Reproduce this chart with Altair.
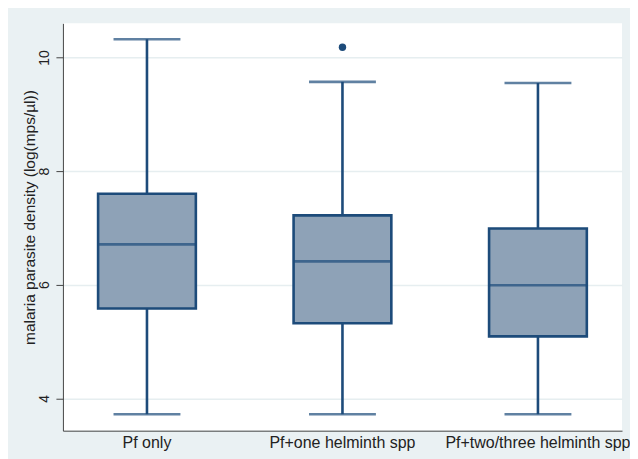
import altair as alt
import pandas as pd

groups = ["Pf only", "Pf+one helminth spp", "Pf+two/three helminth spp"]
whisker_low = [3.72, 3.72, 3.72]
q1 = [5.58, 5.32, 5.09]
median = [6.71, 6.41, 5.99]
q3 = [7.60, 7.22, 6.99]
whisker_high = [10.32, 9.57, 9.55]
outlier_group = ["Pf+one helminth spp"]
outlier_value = [10.18]

df = pd.DataFrame({"group": groups, "lo": whisker_low, "q1": q1, "med": median,
                   "q3": q3, "hi": whisker_high})
dfo = pd.DataFrame({"group": outlier_group, "v": outlier_value})

BOX_FILL = "#8EA2B7"
LINE = "#1D4B7A"
BG = "#EAF1F3"

xenc = alt.X("group:N", sort=groups, title=None,
             scale=alt.Scale(paddingInner=0.5, paddingOuter=0.18),
             axis=alt.Axis(labelAngle=0, ticks=False, labelFontSize=16, labelColor="#222",
                           labelFont="Liberation Sans", labelPadding=4, domainColor="#444",
                           labelLimit=400, domainWidth=1, grid=False))
yscale = alt.Scale(domain=[3.43, 10.6], nice=False, zero=False)
yaxis = alt.Axis(values=[4, 6, 8, 10], labelAngle=270, labelAlign="center", labelBaseline="bottom",
                 labelFontSize=14, labelColor="#222", labelFont="Liberation Sans",
                 tickSize=7, tickColor="#444", domainColor="#444", labelPadding=4,
                 title="malaria parasite density (log(mps/µl))", titleFontSize=15.5,
                 titleFont="Liberation Sans", titleFontWeight="normal", titleColor="#222",
                 titleX=-33, titleY=194, titleAlign="center", titleBaseline="middle",
                 titleLimit=500, gridColor="#E6EEF0", gridWidth=1.5)

base = alt.Chart(df)
whisk_lo = base.mark_rule(color=LINE, strokeWidth=2.6).encode(
    x=xenc, y=alt.Y("lo:Q", scale=yscale, axis=yaxis), y2="q1:Q")
whisk_hi = base.mark_rule(color=LINE, strokeWidth=2.6).encode(
    x=xenc, y=alt.Y("q3:Q", scale=yscale, axis=yaxis), y2="hi:Q")
box = base.mark_bar(fill=BOX_FILL, stroke=LINE, strokeWidth=2.6).encode(
    x=xenc, y=alt.Y("q1:Q", scale=yscale, axis=yaxis), y2="q3:Q")
med = base.mark_tick(color=LINE, thickness=2.6, size=97).encode(
    x=xenc, y=alt.Y("med:Q", scale=yscale, axis=yaxis))
cap_lo = base.mark_tick(color=LINE, thickness=2.6, size=67).encode(
    x=xenc, y=alt.Y("lo:Q", scale=yscale, axis=yaxis))
cap_hi = base.mark_tick(color=LINE, thickness=2.6, size=67).encode(
    x=xenc, y=alt.Y("hi:Q", scale=yscale, axis=yaxis))
out = alt.Chart(dfo).mark_circle(color=LINE, opacity=1, size=55).encode(
    x=xenc, y=alt.Y("v:Q", scale=yscale, axis=yaxis))

chart = alt.layer(whisk_lo, whisk_hi, box, med, cap_lo, cap_hi, out).properties(
    width=560, height=408, background=BG,
    autosize=alt.AutoSizeParams(type="none"),
    padding={"left": 55, "top": 15, "right": 8, "bottom": 28},
).configure_view(fill="white", stroke=None)

chart.save("out.html", embed_options={"renderer": "svg", "actions": False})
